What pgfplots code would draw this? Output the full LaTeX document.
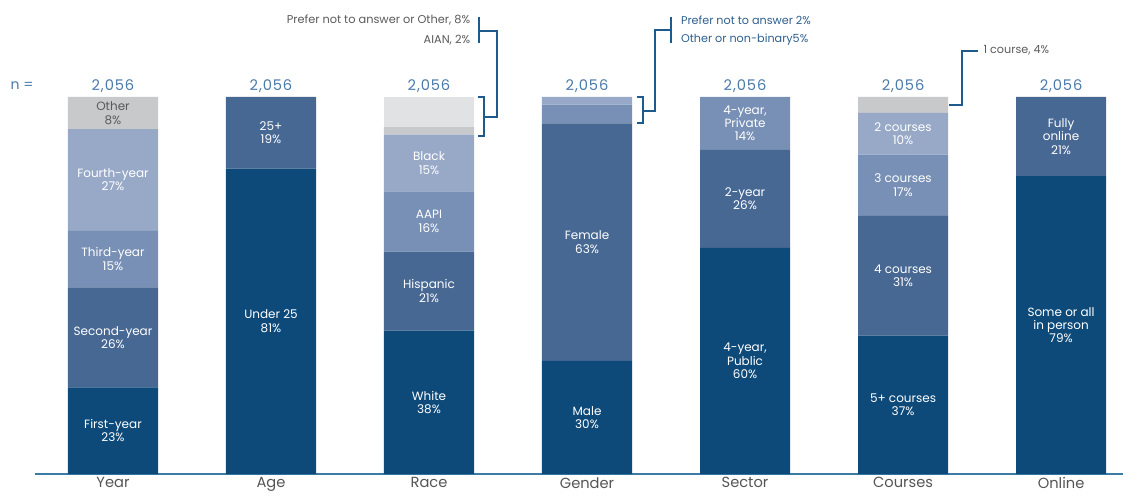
\documentclass[border=0pt]{standalone}
\usepackage{pgfplots}
\pgfplotsset{compat=1.18}
\usepackage{pgfplotstable}
\usepackage{fontspec}
\setmainfont{Poppins}
\definecolor{c1}{HTML}{0D4A7A}
\definecolor{c2}{HTML}{476893}
\definecolor{c3}{HTML}{7890B5}
\definecolor{c4}{HTML}{98A9C8}
\definecolor{c5}{HTML}{C8C9CB}
\definecolor{c6}{HTML}{E1E2E4}
\definecolor{numc}{HTML}{4A7AAB}
\definecolor{annc}{HTML}{1F5A8C}
\definecolor{axisc}{HTML}{3B7BA5}
\definecolor{ticktext}{HTML}{555555}
\definecolor{graytext}{HTML}{5A5A5A}
\definecolor{bluetext}{HTML}{2E5E8E}
\pgfplotstableread{
x l1 l2 l3 l4 l5 l6
0 23 26.5 15 27 8.5 0
1 81 19 0 0 0 0
2 38 21 16 15 2 8
3 30 63 5 2 0 0
4 60 26 14 0 0 0
5 36.7 31.8 16.2 11.1 4.2 0
6 79 21 0 0 0 0
}\data
\newcommand{\pt}[3]{\coordinate (#1) at (axis cs:#2,#3);}
\newcommand{\lab}[2]{\node[font=\fontsize{9}{10}\selectfont, text=white, align=center] at (#1) {#2};}
\begin{document}
\begin{tikzpicture}
\begin{axis}[
  scale only axis, width=816pt, height=282.75pt,
  xmin=-0.4937, xmax=6.392, ymin=0, ymax=100,
  ybar stacked, bar width=0.57,
  axis y line=none, axis x line=bottom,
  x axis line style={-, draw=axisc, line width=1.5pt},
  xtick={0,...,6}, xticklabels={Year,Age,Race,Gender,Sector,Courses,Online},
  major tick length=0pt,
  xticklabel style={font=\fontsize{11}{12}\selectfont, text=ticktext, inner sep=1pt, yshift=-1.5pt},
  clip=false,
]
\addplot[fill=c1, draw=none] table[x=x,y=l1] {\data};
\addplot[fill=c2, draw=none] table[x=x,y=l2] {\data};
\addplot[fill=c3, draw=none] table[x=x,y=l3] {\data};
\addplot[fill=c4, draw=none] table[x=x,y=l4] {\data};
\addplot[fill=c5, draw=none] table[x=x,y=l5] {\data};
\addplot[fill=c6, draw=none] table[x=x,y=l6] {\data};

% label anchor positions (segment centres)
\pt{ya}{0}{11.5}\pt{yb}{0}{36.25}\pt{yc}{0}{57}\pt{yd}{0}{78}\pt{ye}{0}{95.75}
\pt{aa}{1}{40.5}\pt{ab}{1}{90.5}
\pt{ra}{2}{19}\pt{rb}{2}{48.5}\pt{rc}{2}{67}\pt{rd}{2}{82.5}
\pt{ga}{3}{15}\pt{gb}{3}{61.5}
\pt{sa}{4}{30}\pt{sb}{4}{73}\pt{sc}{4}{93}
\pt{ca}{5}{18.35}\pt{cb}{5}{52.6}\pt{cc}{5}{76.6}\pt{cd}{5}{90.25}
\pt{oa}{6}{39.5}\pt{ob}{6}{89.5}

% n row
\node[font=\fontsize{10.5}{12}\selectfont, text=numc] at (axis cs:-0.576,102.9) {n =};
\pgfplotsinvokeforeach{0,...,6}{
  \node[font=\fontsize{11}{12}\selectfont\addfontfeature{LetterSpace=6}, text=numc] at (axis cs:#1,102.9) {2,056};
}

% Race bracket
\draw[annc, line width=1.5pt] (axis cs:2.31,100) -- (axis cs:2.348,100) -- (axis cs:2.348,89.7) -- (axis cs:2.31,89.7);
\draw[annc, line width=1.5pt] (axis cs:2.348,94.8) -- (axis cs:2.43,94.8) -- (axis cs:2.43,117.5) -- (axis cs:2.316,117.5);
\draw[annc, line width=1.5pt] (axis cs:2.316,121.2) -- (axis cs:2.316,114.3);
\node[anchor=east, font=\fontsize{8.5}{9}\selectfont, text=graytext] at (axis cs:2.29,120.4) {Prefer not to answer or Other, 8\%};
\node[anchor=east, font=\fontsize{8.5}{9}\selectfont, text=graytext] at (axis cs:2.29,115.1) {AIAN, 2\%};

% Gender bracket
\draw[annc, line width=1.5pt] (axis cs:3.316,100) -- (axis cs:3.354,100) -- (axis cs:3.354,93) -- (axis cs:3.316,93);
\draw[annc, line width=1.5pt] (axis cs:3.354,96.3) -- (axis cs:3.43,96.3) -- (axis cs:3.43,117.8) -- (axis cs:3.532,117.8);
\draw[annc, line width=1.5pt] (axis cs:3.532,121.2) -- (axis cs:3.532,114.3);
\node[anchor=west, font=\fontsize{8.4}{9}\selectfont, text=bluetext] at (axis cs:3.565,120.4) {Prefer not to answer 2\%};
\node[anchor=west, font=\fontsize{8.4}{9}\selectfont, text=bluetext] at (axis cs:3.565,115.1) {Other or non-binary5\%};

% Courses annotation
\draw[annc, line width=1.5pt] (axis cs:5.291,98) -- (axis cs:5.373,98) -- (axis cs:5.373,112.2) -- (axis cs:5.475,112.2);
\node[anchor=west, font=\fontsize{8.4}{9}\selectfont, text=graytext] at (axis cs:5.48,112.4) {1 course, 4\%};

\coordinate (bbll) at (axis cs:-0.715,-5.57);
\coordinate (bbur) at (axis cs:6.392,125.73);
\end{axis}
% in-bar labels drawn on top of the bars
\lab{ya}{First-year\\23\%}
\lab{yb}{Second-year\\26\%}
\lab{yc}{Third-year\\15\%}
\lab{yd}{Fourth-year\\27\%}
\node[font=\fontsize{9}{10}\selectfont, text=graytext, align=center] at (ye) {Other\\8\%};
\lab{aa}{Under 25\\81\%}
\lab{ab}{25+\\19\%}
\lab{ra}{White\\38\%}
\lab{rb}{Hispanic\\21\%}
\lab{rc}{AAPI\\16\%}
\lab{rd}{Black\\15\%}
\lab{ga}{Male\\30\%}
\lab{gb}{Female\\63\%}
\lab{sa}{4-year,\\Public\\60\%}
\lab{sb}{2-year\\26\%}
\lab{sc}{4-year,\\Private\\14\%}
\lab{ca}{5+ courses\\37\%}
\lab{cb}{4 courses\\31\%}
\lab{cc}{3 courses\\17\%}
\lab{cd}{2 courses\\10\%}
\lab{oa}{Some or all\\in person\\79\%}
\lab{ob}{Fully\\online\\21\%}
\pgfresetboundingbox
\path (bbll) rectangle (bbur);
\end{tikzpicture}
\end{document}
